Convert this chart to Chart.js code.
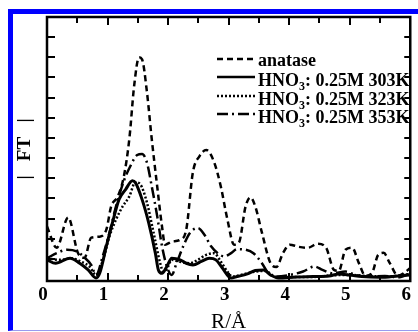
<!DOCTYPE html>
<html>
<head>
<meta charset="utf-8">
<script src="https://cdn.jsdelivr.net/npm/chart.js@4"></script>
<style>
    body { margin: 0; background: #fff; }
    #wrap { position: relative; width: 418px; height: 332px; overflow: hidden; }
    #frame { position: absolute; left: 8px; top: 9px; width: 500px; height: 316px;
             border-left: 5px solid #0000ff; border-top: 5px solid #0000ff; border-bottom: 1px solid #9a9aee; }
    #chart { position: absolute; left: 0; top: 0; }
</style>
</head>
<body>
<div id="wrap">
    <div id="frame"></div>
    <canvas id="chart" width="418" height="332"></canvas>
</div>
<script>
// R in Angstrom, |FT| in arbitrary units
const anataseR = [0, 0.16, 0.35, 0.51, 0.62, 0.73, 0.87, 0.98, 1.06, 1.17, 1.27, 1.36, 1.44, 1.52, 1.57, 1.65, 1.73, 1.82, 1.9, 1.95, 2.06, 2.2, 2.3, 2.41, 2.52, 2.63, 2.76, 2.87, 2.98, 3.09, 3.17, 3.28, 3.36, 3.44, 3.55, 3.69, 3.79, 3.9, 4.01, 4.15, 4.31, 4.47, 4.61, 4.74, 4.82, 4.93, 5.04, 5.15, 5.26, 5.37, 5.47, 5.56, 5.66, 5.8, 5.9, 6.0];
const anataseFT = [2.6, 1.55, 3.05, 1.3, 1.05, 2.05, 2.1, 2.45, 3.6, 4.1, 5.1, 6.95, 9.6, 11.0, 10.9, 9.3, 6.95, 4.6, 2.6, 1.7, 1.85, 1.95, 2.45, 5.3, 6.1, 6.4, 5.8, 4.6, 2.95, 1.7, 1.8, 3.6, 4.05, 3.6, 2.3, 0.8, 0.6, 1.3, 1.7, 1.6, 1.55, 1.75, 1.55, 0.45, 0.4, 1.45, 1.55, 0.8, 0.15, 0.3, 1.2, 1.3, 0.8, 0.15, 0.3, 0.55];

const k303R = [0, 0.14, 0.38, 0.54, 0.68, 0.81, 0.87, 0.98, 1.08, 1.19, 1.3, 1.41, 1.46, 1.57, 1.68, 1.79, 1.84, 1.9, 1.98, 2.06, 2.2, 2.3, 2.41, 2.55, 2.68, 2.79, 2.9, 3.04, 3.14, 3.31, 3.44, 3.58, 3.69, 3.82, 4.12, 4.4, 4.66, 4.82, 5.0, 5.2, 5.5, 5.8, 6.0];
const k303FT = [0.95, 0.78, 1.03, 0.78, 0.45, 0.05, 0.28, 1.62, 2.78, 3.95, 4.45, 4.87, 4.78, 3.95, 2.78, 1.28, 0.45, 0.28, 0.62, 1.03, 0.95, 0.78, 0.7, 0.87, 1.03, 0.95, 0.53, 0.05, 0.12, 0.25, 0.42, 0.45, 0.2, 0.05, 0.1, 0.12, 0.15, 0.25, 0.2, 0.12, 0.08, 0.15, 0.2];

const k323R = [0, 0.22, 0.4, 0.57, 0.7, 0.81, 0.92, 1.03, 1.14, 1.25, 1.36, 1.46, 1.54, 1.65, 1.76, 1.87, 1.92, 1.98, 2.06, 2.2, 2.36, 2.49, 2.63, 2.76, 2.87, 2.98, 3.06, 3.2, 3.4, 3.6, 3.8, 4.1, 4.4, 4.7, 5.0, 5.3, 5.6, 6.0];
const k323FT = [1.03, 0.95, 1.03, 0.85, 0.62, 0.2, 0.9, 2.1, 2.95, 3.6, 4.1, 4.8, 4.7, 3.8, 2.3, 0.78, 0.37, 0.5, 0.95, 0.85, 0.78, 0.95, 1.2, 1.28, 0.87, 0.37, 0.12, 0.2, 0.35, 0.4, 0.08, 0.1, 0.1, 0.18, 0.2, 0.15, 0.12, 0.25];

const k353R = [0, 0.16, 0.33, 0.49, 0.6, 0.73, 0.81, 0.92, 1.03, 1.14, 1.27, 1.38, 1.49, 1.57, 1.65, 1.73, 1.82, 1.9, 1.98, 2.06, 2.14, 2.25, 2.36, 2.49, 2.6, 2.71, 2.82, 2.93, 3.04, 3.14, 3.28, 3.41, 3.55, 3.66, 3.79, 4.01, 4.23, 4.42, 4.55, 4.72, 4.93, 5.1, 5.31, 5.58, 5.8, 6.0];
const k353FT = [1.03, 1.28, 1.45, 1.37, 1.12, 0.7, 0.2, 1.12, 2.28, 3.6, 4.87, 5.62, 6.15, 6.2, 5.78, 4.6, 3.12, 1.62, 0.62, 0.2, 0.78, 1.62, 2.28, 2.53, 2.2, 1.62, 1.28, 1.12, 1.28, 1.48, 1.45, 1.28, 0.78, 0.28, 0.12, 0.2, 0.37, 0.62, 0.45, 0.28, 0.37, 0.2, 0.12, 0.15, 0.08, 0.28];

const seriesNames = ['anatase', '0.25M 303K', '0.25M 323K', '0.25M 353K'];
const seriesDash = [[6, 4], [], [2, 2], [11, 4, 2, 4]];

const xTicks = [0, 0.5, 1, 1.5, 2, 2.5, 3, 3.5, 4, 4.5, 5, 5.5, 6];
const yTicks = [1, 2, 3, 4, 5, 6, 7, 8, 9, 10, 11, 12];

function toPoints(xs, ys) {
    return xs.map(function (x, i) { return { x: x, y: ys[i] }; });
}

const serif = "'Liberation Serif', 'DejaVu Serif', serif";

// frame, inward ticks on all four sides and the legend
const framePlugin = {
    id: 'frame',
    afterDraw: function (chart) {
        const ctx = chart.ctx;
        const a = chart.chartArea;
        const xs = chart.scales.x;
        const ys = chart.scales.y;
        ctx.save();
        ctx.strokeStyle = '#000';
        ctx.lineWidth = 2.5;
        ctx.setLineDash([]);
        ctx.strokeRect(a.left, a.top, a.right - a.left, a.bottom - a.top);

        ctx.lineWidth = 2;
        ctx.beginPath();
        xTicks.forEach(function (v) {
            if (v === 0 || v === 6) return;
            const px = Math.round(xs.getPixelForValue(v));
            const len = Number.isInteger(v) ? 8 : 6;
            ctx.moveTo(px, a.bottom);
            ctx.lineTo(px, a.bottom - len);
            ctx.moveTo(px, a.top);
            ctx.lineTo(px, a.top + len);
        });
        yTicks.forEach(function (v) {
            const py = Math.round(ys.getPixelForValue(v));
            ctx.moveTo(a.left, py);
            ctx.lineTo(a.left + 8, py);
            ctx.moveTo(a.right, py);
            ctx.lineTo(a.right - 6, py);
        });
        ctx.stroke();

        // legend
        const rows = [
            { lineY: 59, baseY: 66 },
            { lineY: 77, baseY: 86 },
            { lineY: 96, baseY: 105 },
            { lineY: 114, baseY: 123 }
        ];
        ctx.fillStyle = '#000';
        ctx.textBaseline = 'alphabetic';
        rows.forEach(function (r, i) {
            ctx.lineWidth = 2.5;
            ctx.setLineDash(seriesDash[i]);
            ctx.beginPath();
            ctx.moveTo(217, r.lineY);
            ctx.lineTo(255, r.lineY);
            ctx.stroke();
            ctx.setLineDash([]);
            let tx = 258;
            ctx.font = 'bold 18px ' + serif;
            if (i === 0) {
                ctx.fillText(seriesNames[0], tx, r.baseY);
            } else {
                ctx.fillText('HNO', tx, r.baseY);
                tx += ctx.measureText('HNO').width;
                ctx.font = 'bold 12px ' + serif;
                ctx.fillText('3', tx, r.baseY + 4);
                tx += ctx.measureText('3').width;
                ctx.font = 'bold 18px ' + serif;
                ctx.fillText(': ' + seriesNames[i], tx, r.baseY);
            }
        });
        ctx.restore();
    }
};

const datasets = [
    { data: toPoints(anataseR, anataseFT), borderDash: seriesDash[0], borderWidth: 2.5 },
    { data: toPoints(k303R, k303FT), borderDash: seriesDash[1], borderWidth: 3 },
    { data: toPoints(k323R, k323FT), borderDash: seriesDash[2], borderWidth: 2.5 },
    { data: toPoints(k353R, k353FT), borderDash: seriesDash[3], borderWidth: 2.5 }
].map(function (d, i) {
    d.label = seriesNames[i];
    d.borderColor = '#000';
    d.pointRadius = 0;
    d.fill = false;
    d.cubicInterpolationMode = 'monotone';
    return d;
});

new Chart(document.getElementById('chart'), {
    type: 'line',
    data: { datasets: datasets },
    options: {
        responsive: false,
        animation: false,
        events: [],
        layout: { padding: { top: 17, right: 3, left: 0, bottom: 0 } },
        plugins: {
            legend: { display: false },
            tooltip: { enabled: false }
        },
        scales: {
            x: {
                type: 'linear',
                min: 0,
                max: 6,
                grid: { display: false, drawTicks: false },
                border: { display: false },
                ticks: {
                    stepSize: 1,
                    padding: 3,
                    labelOffset: -4,
                    color: '#000',
                    maxRotation: 0,
                    font: { family: serif, size: 19, weight: 'bold' }
                },
                title: {
                    display: true,
                    text: 'R/Å',
                    color: '#000',
                    font: { family: serif, size: 21, lineHeight: 1 },
                    padding: { top: 0, bottom: -1 }
                },
                afterFit: function (s) { s.height = 51; }
            },
            y: {
                min: -0.1,
                max: 13,
                grid: { display: false, drawTicks: false },
                border: { display: false },
                ticks: { display: false },
                title: {
                    display: true,
                    text: '|   FT   |',
                    color: '#000',
                    font: { family: serif, size: 19, weight: 'bold', lineHeight: 1 },
                    padding: { top: 16, bottom: 0 }
                },
                afterFit: function (s) { s.width = 47; }
            }
        }
    },
    plugins: [framePlugin]
});
</script>
</body>
</html>
